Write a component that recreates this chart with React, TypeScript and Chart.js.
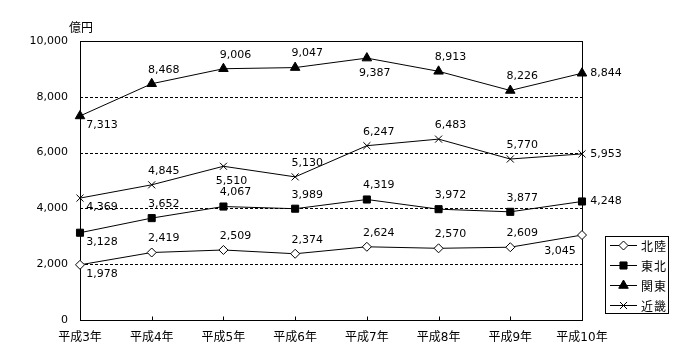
import React, { useEffect, useRef } from "react";
import { Chart, registerables } from "chart.js";
import { drawPoint } from "chart.js/helpers";

Chart.register(...registerables);

const categories = ["平成3年", "平成4年", "平成5年", "平成6年", "平成7年", "平成8年", "平成9年", "平成10年"];
const hokuriku = [1978, 2419, 2509, 2374, 2624, 2570, 2609, 3045];
const tohoku = [3128, 3652, 4067, 3989, 4319, 3972, 3877, 4248];
const kanto = [7313, 8468, 9006, 9047, 9387, 8913, 8226, 8844];
const kinki = [4369, 4845, 5510, 5130, 6247, 6483, 5770, 5953];
const seriesNames = ["北陸", "東北", "関東", "近畿"];
const yTicks = [0, 2000, 4000, 6000, 8000, 10000];
const unitLabel = "億円";

// label placement codes per point
const placeHokuriku = ["br", "a", "a", "a", "a", "a", "a", "bl"];
const placeTohoku = ["br", "a", "a", "a", "a", "a", "a", "r"];
const placeKanto = ["br", "a", "a", "a", "b", "a", "a", "r"];
const placeKinki = ["br", "a", "b", "a", "a", "a", "a", "r"];

const NUM_FONT = '11px "DejaVu Sans", "Noto Sans CJK JP"';
const CJK_FONT = '12px "Noto Sans CJK JP", "DejaVu Sans"';

const offsets: Record<string, [number, number]> = {
  a: [12, -14],
  b: [8, 15],
  r: [24, 0],
  br: [22, 9],
  bl: [-22, 16],
};

const fmt = (v: number) => v.toLocaleString("en-US");

const decorPlugin = {
  id: "decor",
  beforeDatasetsDraw(chart: any) {
    const { ctx, chartArea, scales } = chart;
    const y = scales.y;
    const x = scales.x;
    ctx.save();
    ctx.strokeStyle = "#000";
    ctx.lineWidth = 1;
    ctx.setLineDash([3, 2]);
    yTicks.forEach((t) => {
      if (t === 0 || t === 10000) return;
      const py = Math.round(y.getPixelForValue(t)) + 0.5;
      ctx.beginPath();
      ctx.moveTo(chartArea.left, py);
      ctx.lineTo(chartArea.right, py);
      ctx.stroke();
    });
    ctx.setLineDash([]);
    const l = Math.round(chartArea.left) + 0.5;
    const r = Math.round(chartArea.right) + 0.5;
    const t = Math.round(chartArea.top) + 0.5;
    const b = Math.round(chartArea.bottom) + 0.5;
    ctx.strokeRect(l, t, r - l, b - t);
    categories.forEach((_, i) => {
      const px = Math.round(x.getPixelForValue(i)) + 0.5;
      ctx.beginPath();
      ctx.moveTo(px, b);
      ctx.lineTo(px, b - 4);
      ctx.stroke();
    });
    ctx.fillStyle = "#000";
    ctx.font = CJK_FONT;
    ctx.textAlign = "center";
    ctx.textBaseline = "middle";
    ctx.fillText(unitLabel, chartArea.left + 1, chartArea.top - 14);
    ctx.restore();
  },
  afterDatasetsDraw(chart: any) {
    const { ctx } = chart;
    const places = [placeHokuriku, placeTohoku, placeKanto, placeKinki];
    ctx.save();
    ctx.fillStyle = "#000";
    ctx.font = NUM_FONT;
    ctx.textAlign = "center";
    ctx.textBaseline = "middle";
    chart.data.datasets.forEach((ds: any, di: number) => {
      const meta = chart.getDatasetMeta(di);
      meta.data.forEach((pt: any, i: number) => {
        const [dx, dy] = offsets[places[di][i]];
        ctx.fillText(fmt(ds.data[i]), pt.x + dx, pt.y + dy);
      });
    });
    // legend
    const bx = 605.5, by = 236.5, bw = 63, bh = 77;
    ctx.strokeStyle = "#000";
    ctx.lineWidth = 1;
    ctx.strokeRect(bx, by, bw, bh);
    ctx.font = CJK_FONT;
    ctx.textAlign = "left";
    chart.data.datasets.forEach((ds: any, di: number) => {
      const ry = 245.5 + di * 20;
      ctx.strokeStyle = "#000";
      ctx.beginPath();
      ctx.moveTo(610, ry);
      ctx.lineTo(637, ry);
      ctx.stroke();
      ctx.fillStyle = ds.pointBackgroundColor;
      ctx.strokeStyle = "#000";
      ctx.lineWidth = 1;
      drawPoint(
        ctx,
        { pointStyle: ds.pointStyle, radius: ds.pointRadius, borderWidth: 1, rotation: 0 } as any,
        623.5,
        ry
      );
      ctx.fillStyle = "#000";
      seriesNames[di].split("").forEach((ch, k) => {
        ctx.fillText(ch, 641 + k * 13, ry + 1);
      });
    });
    ctx.restore();
  },
};

export default function App() {
  const ref = useRef<HTMLCanvasElement | null>(null);
  useEffect(() => {
    if (!ref.current) return;
    const mk = (label: string, data: number[], style: string, bg: string, radius: number) => ({
      label,
      data,
      borderColor: "#000",
      borderWidth: 1,
      pointStyle: style,
      pointRadius: radius,
      pointBackgroundColor: bg,
      pointBorderColor: "#000",
      pointBorderWidth: 1,
      fill: false,
      tension: 0,
    });
    const chart = new Chart(ref.current, {
      type: "line",
      data: {
        labels: categories,
        datasets: [
          mk(seriesNames[0], hokuriku, "rectRot", "#fff", 4.5),
          mk(seriesNames[1], tohoku, "rect", "#000", 5),
          mk(seriesNames[2], kanto, "triangle", "#000", 5.5),
          mk(seriesNames[3], kinki, "crossRot", "#000", 5),
        ] as any,
      },
      options: {
        animation: false,
        responsive: false,
        devicePixelRatio: 1,
        layout: { padding: { top: 41, right: 118, left: 0, bottom: 0 } },
        plugins: { legend: { display: false }, tooltip: { enabled: false } },
        scales: {
          x: {
            type: "category",
            offset: false,
            grid: { display: false, drawTicks: false },
            border: { display: false },
            ticks: {
              color: "#000",
              font: { family: '"DejaVu Sans", "Noto Sans CJK JP"', size: 12 },
              padding: 11,
              maxRotation: 0,
              autoSkip: false,
            },
            afterFit: (s: any) => {
              s.height = 40;
            },
          },
          y: {
            min: 0,
            max: 10000,
            grid: { display: false, drawTicks: false },
            border: { display: false },
            ticks: {
              stepSize: 2000,
              color: "#000",
              font: { family: '"DejaVu Sans", "Noto Sans CJK JP"', size: 11 },
              padding: 12,
              callback: (v: any) => fmt(Number(v)),
            },
            afterFit: (s: any) => {
              s.width = 80;
            },
          },
        },
      },
      plugins: [decorPlugin],
    });
    return () => chart.destroy();
  }, []);
  return (
    <div style={{ position: "absolute", left: 0, top: 0, width: 700, height: 360, background: "#fff" }}>
      <canvas ref={ref} width={700} height={360} style={{ width: 700, height: 360 }} />
    </div>
  );
}
